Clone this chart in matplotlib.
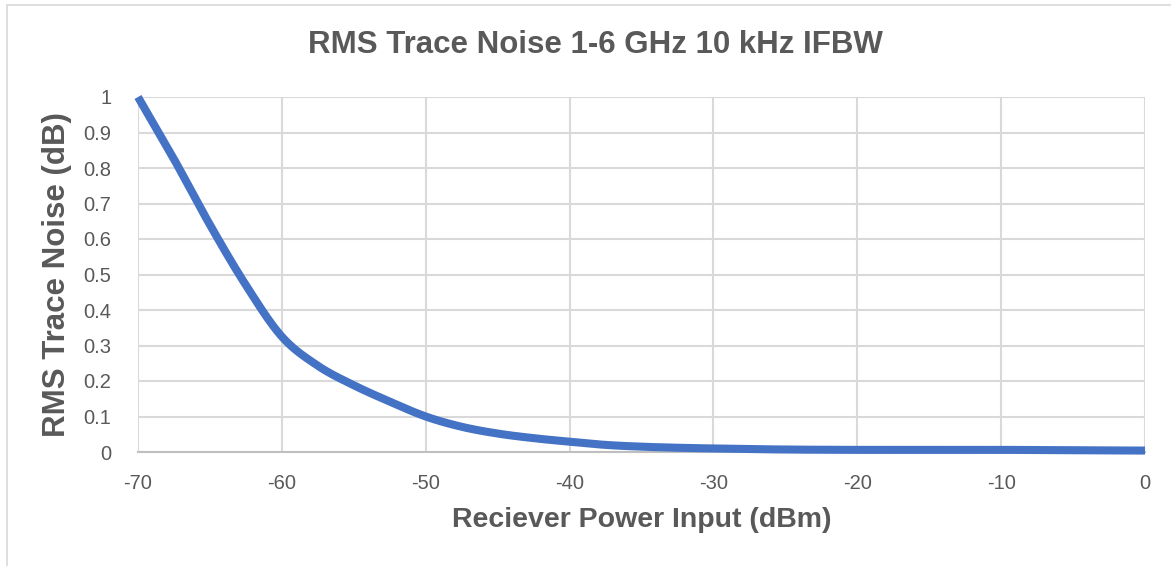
import numpy as np
import matplotlib.pyplot as plt
from matplotlib.patches import Rectangle

plt.rcParams['font.family'] = ['Liberation Sans', 'DejaVu Sans']

# receiver input power (dBm) and measured RMS trace noise (dB)
power_dbm = [-70, -67.5, -65, -62.5, -60, -57.5, -55, -52.5, -50, -47.5,
             -45, -42.5, -40, -37.5, -35, -32.5, -30, -25, -20, -15, -10, -5, 0]
noise_db = [1.0, 0.825, 0.64, 0.47, 0.325, 0.243, 0.188, 0.142, 0.100, 0.071,
            0.052, 0.039, 0.029, 0.020, 0.015, 0.012, 0.010, 0.007, 0.006, 0.006,
            0.006, 0.005, 0.004]

x_ticks = list(range(-70, 1, 10))
y_ticks = [0, 0.1, 0.2, 0.3, 0.4, 0.5, 0.6, 0.7, 0.8, 0.9, 1]
y_labels = ['0', '0.1', '0.2', '0.3', '0.4', '0.5', '0.6', '0.7', '0.8', '0.9', '1']


def smooth_line(x, y, n=20):
    # Catmull-Rom curve through every point, like a "smoothed line" chart
    x = np.asarray(x, float)
    y = np.asarray(y, float)
    px = np.concatenate([[2 * x[0] - x[1]], x, [2 * x[-1] - x[-2]]])
    py = np.concatenate([[2 * y[0] - y[1]], y, [2 * y[-1] - y[-2]]])
    t = np.linspace(0, 1, n, endpoint=False)
    xs, ys = [], []
    for i in range(1, len(px) - 2):
        for p, out in ((px, xs), (py, ys)):
            p0, p1, p2, p3 = p[i - 1], p[i], p[i + 1], p[i + 2]
            out.append(0.5 * (2 * p1 + (-p0 + p2) * t
                              + (2 * p0 - 5 * p1 + 4 * p2 - p3) * t ** 2
                              + (-p0 + 3 * p1 - 3 * p2 + p3) * t ** 3))
    xs.append([x[-1]])
    ys.append([y[-1]])
    return np.concatenate(xs), np.concatenate(ys)


W, H = 1171, 566
fig = plt.figure(figsize=(W / 100, H / 100), dpi=100)
ax = fig.add_axes([138 / W, 1 - 452 / H, (1145 - 138) / W, (452 - 97) / H])

# chart border
fig.patches.append(Rectangle((7 / W, -0.1), 1.2, 1 - 5 / H + 0.1,
                             transform=fig.transFigure, fill=False,
                             edgecolor='#D9D9D9', lw=1.2))

sx, sy = smooth_line(power_dbm, noise_db)
ax.plot(sx, sy, color='#4472C4', lw=5.8,
        solid_capstyle='butt', solid_joinstyle='round', clip_on=False, zorder=3)

ax.set_xlim(-70, 0)
ax.set_ylim(0, 1)
ax.set_xticks(x_ticks)
ax.set_xticklabels([str(t) for t in x_ticks])
ax.set_yticks(y_ticks)
ax.set_yticklabels(y_labels)
ax.grid(True, color='#D9D9D9', lw=1.5)
ax.set_axisbelow(True)

for side in ['left', 'top', 'right']:
    ax.spines[side].set_visible(False)
ax.spines['bottom'].set_color('#BFBFBF')
ax.spines['bottom'].set_linewidth(1.5)

ax.tick_params(axis='both', length=0, labelsize=14.5, colors='#595959')
ax.tick_params(axis='x', pad=16)
ax.tick_params(axis='y', pad=19)

# title is centred on the whole chart, not the plot area
fig.text(595 / W, 1 - 45 / H, 'RMS Trace Noise 1-6 GHz 10 kHz IFBW', fontsize=22.5,
         fontweight='bold', color='#595959', ha='center', va='center')
ax.set_xlabel('Reciever Power Input (dBm)', fontsize=20.5, fontweight='bold',
              color='#595959', labelpad=10)
ax.set_ylabel('RMS Trace Noise (dB)', fontsize=22.5, fontweight='bold',
              color='#595959', labelpad=8)

fig.savefig('out.png', dpi=100)
